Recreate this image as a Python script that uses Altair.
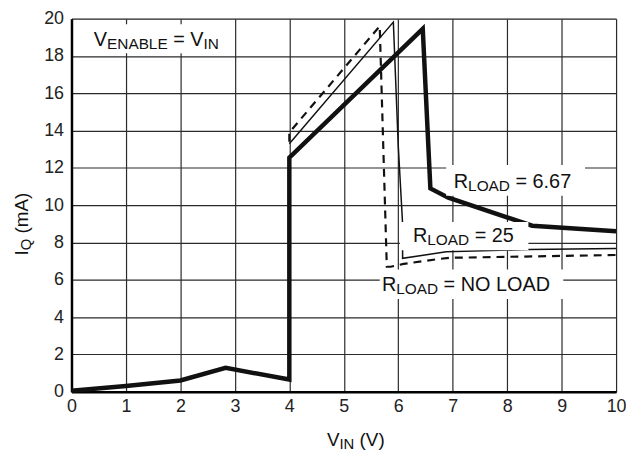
import altair as alt
import pandas as pd

# ---- data ----
load667_x = [0, 1, 2, 2.83, 4, 4, 6.45, 6.59, 6.92, 8.46, 10]
load667_y = [0.05, 0.3, 0.6, 1.28, 0.65, 12.55, 19.46, 10.9, 10.4, 8.9, 8.6]

load25_x = [4, 5.91, 6.0, 6.08, 6.08, 6.88, 8.4, 10]
load25_y = [13.3, 19.82, 13.2, 9.0, 7.15, 7.5, 7.62, 7.68]

noload_x = [4, 4, 5.66, 5.79, 5.86, 6.1, 6.7, 6.95, 10]
noload_y = [13.4, 13.9, 19.6, 6.7, 6.7, 6.85, 7.1, 7.18, 7.33]

x_ticks = list(range(0, 11))
y_ticks = list(range(0, 21, 2))

# label backgrounds (data units)
box_x1 = [0.30, 6.88, 6.03, 5.66]
box_x2 = [2.95, 9.43, 8.39, 9.03]
box_y1 = [18.15, 10.5, 7.58, 4.97]
box_y2 = [19.70, 12.15, 9.10, 6.55]

# annotation anchors (left, baseline) and rich-text pieces (text, size, subscript)
ann_x = [0.41, 7.02, 6.27, 5.70]
ann_y = [18.55, 10.92, 8.0, 5.42]
ann_pieces = [
    [("V", 20, False), ("ENABLE", 15.5, True), (" = V", 20, False), ("IN", 15.5, True)],
    [("R", 20, False), ("LOAD", 15.5, True), (" = 6.67", 20, False)],
    [("R", 20, False), ("LOAD", 15.5, True), (" = 25", 20, False)],
    [("R", 20, False), ("LOAD", 15.5, True), (" = NO LOAD", 20, False)],
]
xtitle_pos = (4.69, -2.92)
xtitle_pieces = [("V", 19, False), ("IN", 15, True), (" (V)", 19, False)]
ytitle_pos = (-0.79, 7.3)
ytitle_pieces = [("I", 19, False), ("Q", 15, True), (" (mA)", 19, False)]

FONT = "Liberation Sans"
INK = "#111111"

W = {" ": 278, "(": 333, ")": 333, "=": 584, ".": 278, "A": 667, "B": 667,
     "D": 722, "E": 667, "I": 278, "L": 556, "N": 722, "O": 778, "Q": 778,
     "R": 722, "V": 667, "m": 833, "a": 556}


def tw(s, size):
    return sum(W.get(c, 556) for c in s) * size / 1000.0


xs = alt.Scale(domain=[0, 10], nice=False, zero=False)
ys = alt.Scale(domain=[0, 20], nice=False, zero=False)

axis_common = dict(title=None, grid=True, ticks=False, labelFlush=False, labelOverlap=False,
                   labelFontSize=18, labelFont=FONT, labelColor="#222",
                   domainColor="#000", domainWidth=2.5, gridColor="#2a2a2a", gridWidth=1.2,
                   gridOpacity=1)
x_axis = alt.Axis(values=x_ticks, labelPadding=6, **axis_common)
y_axis = alt.Axis(values=y_ticks, labelPadding=8, **axis_common)


def X(field):
    return alt.X(field, scale=xs, axis=x_axis)


def Y(field):
    return alt.Y(field, scale=ys, axis=y_axis)


def rich(x, y, pieces, angle=0):
    layers = []
    off = 0.0
    df = pd.DataFrame({"x": [x], "y": [y]})
    for text, size, sub in pieces:
        lead = len(text) - len(text.lstrip(" "))
        off += tw(" " * lead, size)
        body = text.strip(" ")
        kw = dict(text=body, fontSize=size, align="left", baseline="alphabetic",
                  dx=off, dy=3 if sub else 0, font=FONT, color=INK)
        if angle:
            kw["angle"] = angle
        layers.append(alt.Chart(df).mark_text(**kw).encode(x=X("x:Q"), y=Y("y:Q")))
        off += tw(text.lstrip(" "), size)
    return layers


def line_layer(xv, yv, **mk):
    df = pd.DataFrame({"x": xv, "y": yv, "o": list(range(len(xv)))})
    return alt.Chart(df).mark_line(color=INK, strokeJoin="miter", **mk).encode(
        x=X("x:Q"), y=Y("y:Q"), order="o:Q",
    )


dashed = line_layer(noload_x, noload_y, strokeWidth=2.2, strokeDash=[8, 6])
thin = line_layer(load25_x, load25_y, strokeWidth=1.5)
thick = line_layer(load667_x, load667_y, strokeWidth=4.5)

boxes = alt.Chart(pd.DataFrame({"x1": box_x1, "x2": box_x2, "y1": box_y1, "y2": box_y2})).mark_rect(
    color="white"
).encode(x=X("x1:Q"), x2="x2:Q", y=Y("y1:Q"), y2="y2:Q")

texts = []
for ax, ay, pcs in zip(ann_x, ann_y, ann_pieces):
    texts += rich(ax, ay, pcs)
texts += rich(xtitle_pos[0], xtitle_pos[1], xtitle_pieces)
texts += rich(ytitle_pos[0], ytitle_pos[1], ytitle_pieces, angle=270)

chart = alt.layer(dashed, thin, thick, boxes, *texts).properties(
    width=549, height=376,
    autosize=alt.AutoSizeParams(type="none"),
    padding={"left": 64, "top": 9, "right": 10, "bottom": 58},
).configure_view(stroke="#888", strokeWidth=2).configure(background="white")

chart.save("out.html", embed_options={"renderer": "svg", "actions": False})
